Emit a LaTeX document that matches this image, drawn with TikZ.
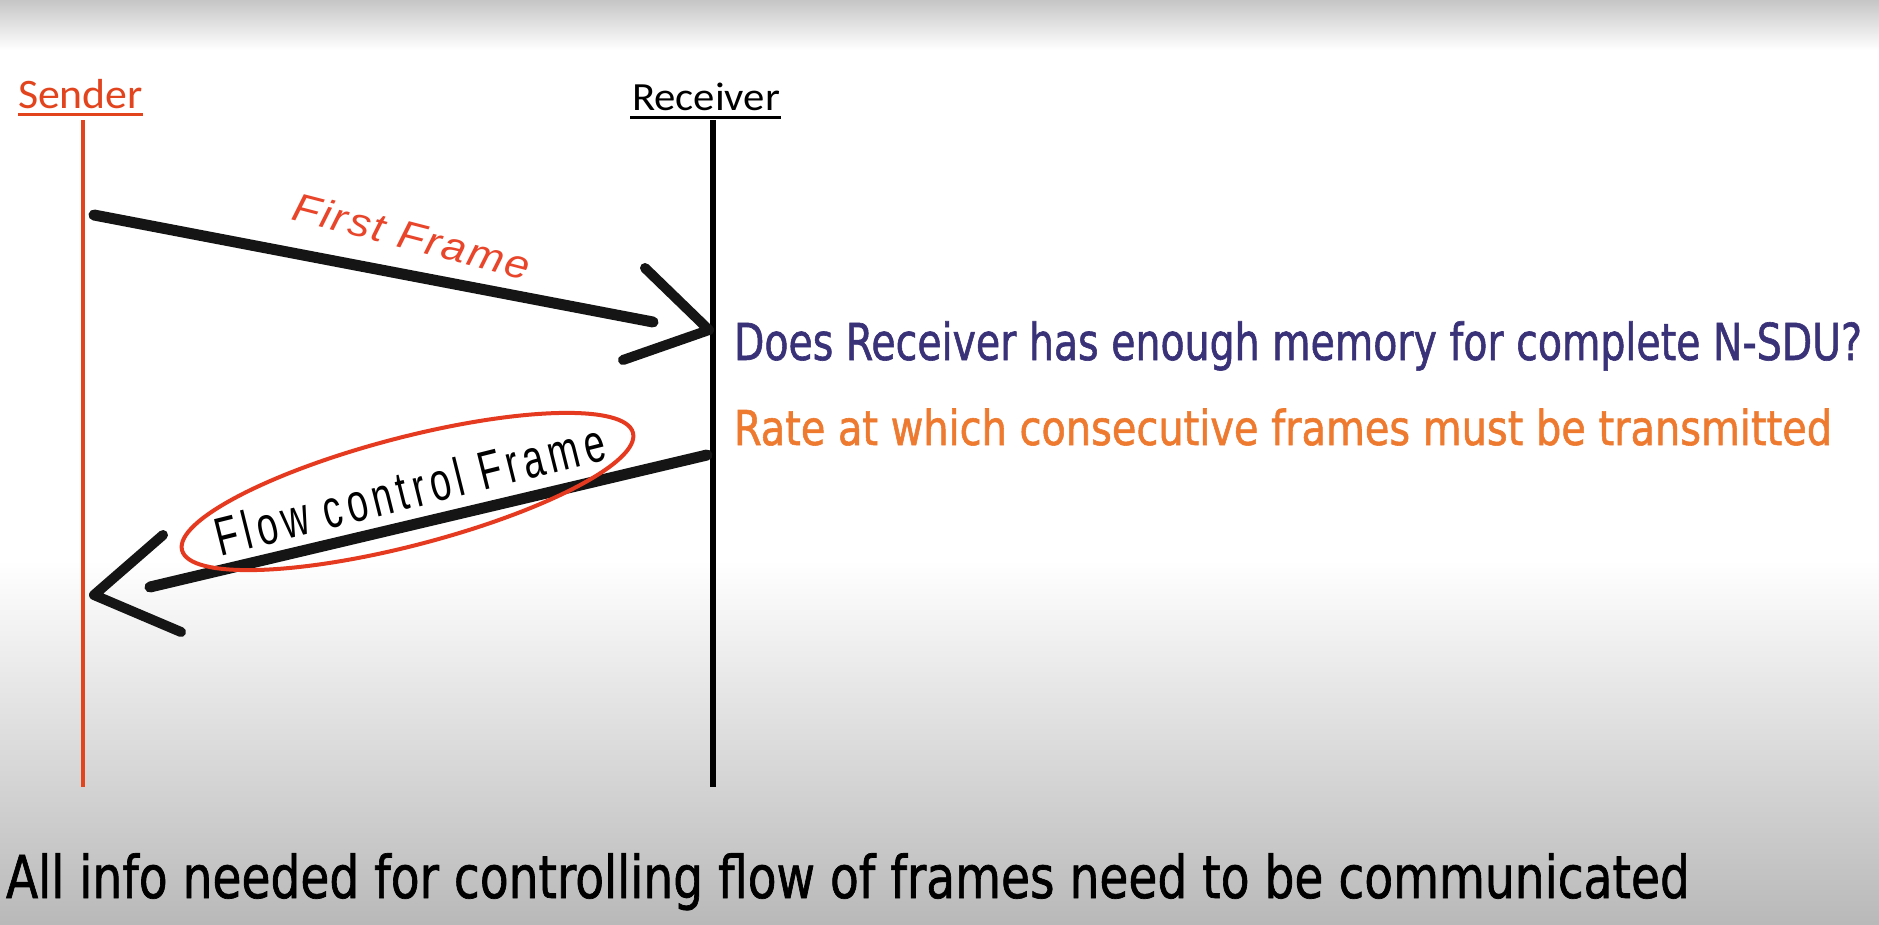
\documentclass[tikz,border=0pt]{standalone}
\usepackage{fontspec}
\usepackage{graphicx}
\setmainfont[FakeBold=1.2]{DejaVu Sans Condensed}
\newfontfamily\calib{Carlito}
\newfontfamily\hand[LetterSpace=5]{Liberation Sans}
\newfontfamily\handb[LetterSpace=14]{Liberation Sans}
\usetikzlibrary{shapes.geometric,calc}
\definecolor{sndred}{HTML}{E2441E}
\definecolor{ffred}{HTML}{E8452A}
\definecolor{ellred}{HTML}{E53A20}
\definecolor{qpurple}{HTML}{3A3278}
\definecolor{rorange}{HTML}{EE7A30}
\definecolor{ink}{HTML}{151515}
\newcommand\fitw[3]{\resizebox{#1}{\height}{#2#3}}
\tikzset{
  txt/.style={inner sep=0pt, outer sep=0pt},
  shaft/.style={ink, line width=11pt, line cap=round},
  chevron/.style={ink, line width=10pt, line cap=round, line join=round},
  uline/.style={line width=3pt}
}
\begin{document}
\begin{tikzpicture}[x=1pt,y=-1pt]
\useasboundingbox (0,0) rectangle (1879,924);
\fill[white] (0,0) rectangle (1879,924);
\shade[top color=gray!45, bottom color=white] (0,0) rectangle (1879,50);
\shade[top color=white, bottom color=gray!55] (0,560) rectangle (1879,924);

% headers
\node[txt, text=sndred, anchor=base west] (snd) at (18,108)
  {\fitw{125pt}{\calib\fontsize{42}{42}\selectfont}{Sender}};
\draw[sndred, uline] ($(snd.base west)+(0,6)$) -- ($(snd.base east)+(0,6)$);
\node[txt, text=black, anchor=base west] (rcv) at (632,110)
  {\fitw{148pt}{\calib\fontsize{40}{40}\selectfont}{Receiver}};
\draw[black, uline] ($(rcv.base west)+(-2,7)$) -- ($(rcv.base east)+(1,7)$);

% lifelines
\coordinate (sTop) at (83,120);
\coordinate (sBot) at (83,787);
\coordinate (rTop) at (713,120);
\coordinate (rBot) at (713,787);
\draw[sndred, line width=4pt] (sTop) -- (sBot);
\draw[black, line width=6pt] (rTop) -- (rBot);

% first frame arrow
\coordinate (f1s) at (94,215);
\coordinate (f1e) at (653,322);
\coordinate (f1a) at (645,268);
\coordinate (f1t) at (709,330);
\coordinate (f1b) at (623,360);
\draw[shaft] (f1s) -- (f1e);
\draw[chevron] (f1a) -- (f1t) -- (f1b);
\node[txt, rotate=-14.5, text=ffred] (ff) at (412,236)
  {\fitw{244pt}{\hand\itshape\fontsize{40}{40}\selectfont}{First Frame}};

% flow control frame arrow
\coordinate (f2s) at (707,455);
\coordinate (f2e) at (150,587);
\coordinate (f2a) at (163,535);
\coordinate (f2t) at (94,595);
\coordinate (f2b) at (181,632);
\draw[shaft] (f2s) -- (f2e);
\draw[chevron] (f2a) -- (f2t) -- (f2b);
\node[draw=ellred, line width=4pt, ellipse, minimum width=466pt, minimum height=108pt,
      rotate=14.6, inner sep=0pt] (ell) at (407.5,491.5) {};
\node[txt, rotate=14, text=black] (fcf) at (410,489)
  {\fitw{400pt}{\handb\fontsize{54}{54}\selectfont}{Flow control Frame}};

% explanations
\node[txt, text=qpurple, anchor=base west] (q1) at (734,360)
  {\fitw{1128pt}{\fontsize{51}{51}\selectfont}{Does Receiver has enough memory for complete N-SDU?}};
\node[txt, text=rorange, anchor=base west] (q2) at (734,445)
  {\fitw{1098pt}{\fontsize{48}{48}\selectfont}{Rate at which consecutive frames must be transmitted}};
\node[txt, text=black, anchor=base west] (bot) at (6,898)
  {\fitw{1684pt}{\fontsize{59}{59}\selectfont}{All info needed for controlling flow of frames need to be communicated}};
\end{tikzpicture}
\end{document}
